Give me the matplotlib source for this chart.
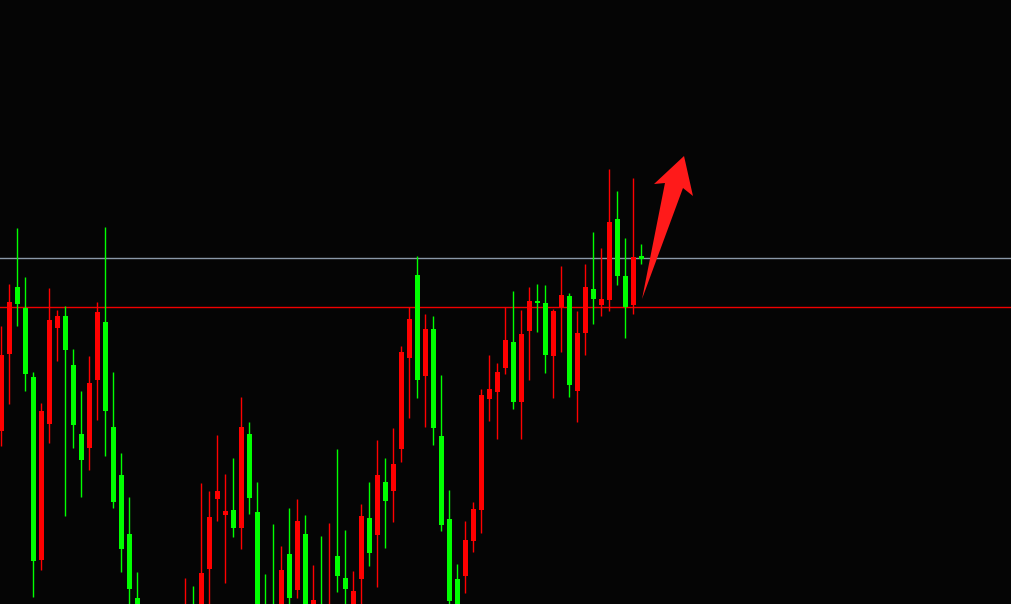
import matplotlib
matplotlib.use("Agg")
import matplotlib.pyplot as plt
from matplotlib.patches import Polygon
import numpy as np

# candle data (arbitrary price units), red = up, green = down
opens = [173.3, 250.3, 317, 296.3, 227, 44.3, 180.3, 276.3, 288, 239,
         170, 156.3, 224.3, 282, 177, 129, 70, 6, -21, -51,
         -41, -71, -46, -36, -8, -16, 35.3, 105.3, 89, 94,
         76.3, 170, 92, -4, -6, -8, 50, 14.3, 70, -21,
         -6, -26, 48, 26, -11, 25.3, 86, 69.3, 122, 113.3,
         155.3, 246.3, 329, 228.3, 275, 168, 85, 25, 28.3, 63.3,
         94.3, 205.3, 212.3, 236.3, 262, 202.3, 273.3, 303, 301, 248.3,
         297, 308, 213.3, 271.3, 315, 299.3, 304.3, 385, 328, 299.3,
         348]
highs = [278, 320, 376, 327, 232, 201, 316, 294, 298, 255,
         213, 248, 302, 377, 232, 151, 107, 32, -8, -11,
         -16, -26, -4, 26, 18, 121, 113, 169, 130, 146,
         207, 182, 122, 30, 80, 58, 96, 105, 89, 39,
         68, 81, 155, 74, 33, 100, 122, 164, 146, 176,
         258, 297, 348, 290, 288, 229, 114, 40, 83, 102,
         215, 249, 241, 297.3, 313, 294, 317, 320, 319, 295,
         338, 311, 293, 340, 372, 356, 435, 413, 366, 426,
         360]
lows = [158, 200.3, 278, 213, 7.3, 34.3, 161.3, 243.3, 88.3, 156.3,
        107.3, 134.3, 184.3, 148.3, 96.3, 32.3, -6, -41, -71, -66,
        -86, -91, -56, -46, -41, -26, -8, 83.3, 21.3, 67.3,
        55.3, 90.3, -21, -36, -46, -16, -8, 6.3, -16, -31,
        -31, -36, 12.3, -8, -18, -6, 38.3, 17.3, 56.3, 82.3,
        142.3, 186.3, 206.3, 177.3, 159.3, 73.3, -8, -21, 11.3, 52.3,
        71.3, 183.3, 165.3, 230.3, 195.3, 165.3, 224.3, 272.3, 231.3, 206.3,
        252.3, 207.3, 182.3, 249.3, 280.3, 288.3, 293.3, 319.3, 266.3, 290.3,
        340.3]
closes = [249, 302, 300.3, 230.3, 43.3, 193, 284, 288, 254.3, 179.3,
          144.3, 221, 292, 193.3, 102.3, 55.3, 15.3, -26, -56, -36,
          -76, -46, -21, -6, -31, 31, 87, 113, 93, 76.3,
          177, 106.3, -11, -26, -36, 34, 6.3, 83, -6, 4,
          -21, -4, 28.3, 15.3, 13, 88, 51.3, 129, 103.3, 140,
          252, 285, 224.3, 275, 176.3, 79.3, 3.3, -11, 64, 95,
          209, 215, 232, 264, 202.3, 270, 303, 301, 249.3, 293,
          309, 219.3, 271, 317, 305.3, 305, 382, 328.3, 297.3, 347,
          345.3]

level_hi = 346    # grey line
level_lo = 297    # red line

# arrow outline
arrow_x = [80.09, 82.96, 81.59, 85.34, 86.46, 85.21]
arrow_y = [305, 421, 420, 448, 408, 416]

UP = "#ff0000"
DOWN = "#00ff00"
BG = "#050505"

fig = plt.figure(figsize=(10.12, 6.04), dpi=100, facecolor=BG)
ax = fig.add_axes([0, 0, 1, 1])
ax.set_facecolor(BG)

o = np.array(opens)
h = np.array(highs)
l = np.array(lows)
c = np.array(closes)
x = np.arange(len(o))
cols = np.where(c > o, UP, DOWN)

ax.axhline(level_hi, color="#8a98a8", lw=1, zorder=1)
ax.axhline(level_lo, color="#f00000", lw=1, zorder=1)

ax.vlines(x, l, h, colors=cols, lw=1, zorder=2)
body = np.maximum(np.abs(c - o), 1.5)
ax.bar(x, body, bottom=np.minimum(o, c), width=0.62, color=cols,
       linewidth=0, zorder=3)

ax.add_patch(Polygon(list(zip(arrow_x, arrow_y)), closed=True,
                     facecolor="#ff1a1a", edgecolor="none", zorder=4))

ax.set_xlim((0 - 1.3) / 8, (1012 - 1.3) / 8)
ax.set_ylim(0, 604)
ax.axis("off")

fig.savefig("out.png", dpi=100, facecolor=BG)
